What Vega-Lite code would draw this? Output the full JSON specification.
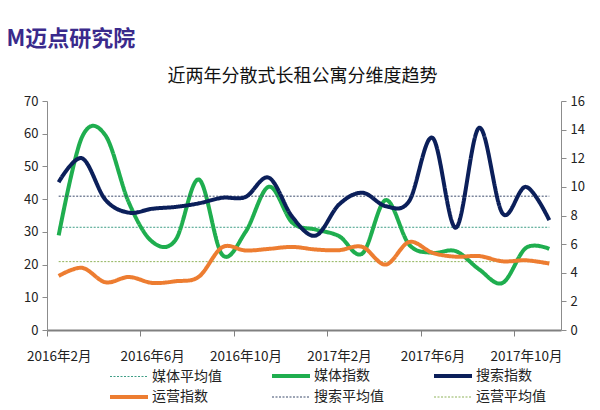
{
  "$schema": "https://vega.github.io/schema/vega-lite/v6.json",
  "description": "近两年分散式长租公寓分维度趋势",
  "width": 514,
  "height": 229,
  "autosize": {"type": "none"},
  "padding": {"left": 47, "top": 101, "right": 39, "bottom": 80},
  "background": "white",
  "title": {
    "text": "M迈点研究院",
    "font": "Noto Sans CJK SC",
    "fontSize": 22,
    "fontWeight": "bold",
    "color": "#3a2a8c",
    "anchor": "start",
    "frame": "bounds",
    "baseline": "bottom",
    "dx": -17,
    "offset": -6
  },
  "datasets": {
    "lines": [
      {"month": "2016年2月", "series": "媒体指数", "value": 28.9},
      {"month": "2016年3月", "series": "媒体指数", "value": 59},
      {"month": "2016年4月", "series": "媒体指数", "value": 59.5},
      {"month": "2016年5月", "series": "媒体指数", "value": 39},
      {"month": "2016年6月", "series": "媒体指数", "value": 27},
      {"month": "2016年7月", "series": "媒体指数", "value": 27.5},
      {"month": "2016年8月", "series": "媒体指数", "value": 46},
      {"month": "2016年9月", "series": "媒体指数", "value": 23},
      {"month": "2016年10月", "series": "媒体指数", "value": 30},
      {"month": "2016年11月", "series": "媒体指数", "value": 43.8},
      {"month": "2016年12月", "series": "媒体指数", "value": 32.8},
      {"month": "2017年1月", "series": "媒体指数", "value": 30.7},
      {"month": "2017年2月", "series": "媒体指数", "value": 28.7},
      {"month": "2017年3月", "series": "媒体指数", "value": 23.4},
      {"month": "2017年4月", "series": "媒体指数", "value": 39.7},
      {"month": "2017年5月", "series": "媒体指数", "value": 26.1},
      {"month": "2017年6月", "series": "媒体指数", "value": 23.6},
      {"month": "2017年7月", "series": "媒体指数", "value": 24.1},
      {"month": "2017年8月", "series": "媒体指数", "value": 18.5},
      {"month": "2017年9月", "series": "媒体指数", "value": 14.4},
      {"month": "2017年10月", "series": "媒体指数", "value": 25.1},
      {"month": "2017年11月", "series": "媒体指数", "value": 24.8},
      {"month": "2016年2月", "series": "运营指数", "value": 16.5},
      {"month": "2016年3月", "series": "运营指数", "value": 19.0},
      {"month": "2016年4月", "series": "运营指数", "value": 14.6},
      {"month": "2016年5月", "series": "运营指数", "value": 16.2},
      {"month": "2016年6月", "series": "运营指数", "value": 14.4},
      {"month": "2016年7月", "series": "运营指数", "value": 14.9},
      {"month": "2016年8月", "series": "运营指数", "value": 16.3},
      {"month": "2016年9月", "series": "运营指数", "value": 25.3},
      {"month": "2016年10月", "series": "运营指数", "value": 24.3},
      {"month": "2016年11月", "series": "运营指数", "value": 24.8},
      {"month": "2016年12月", "series": "运营指数", "value": 25.4},
      {"month": "2017年1月", "series": "运营指数", "value": 24.6},
      {"month": "2017年2月", "series": "运营指数", "value": 24.4},
      {"month": "2017年3月", "series": "运营指数", "value": 25.4},
      {"month": "2017年4月", "series": "运营指数", "value": 20.0},
      {"month": "2017年5月", "series": "运营指数", "value": 26.9},
      {"month": "2017年6月", "series": "运营指数", "value": 23.6},
      {"month": "2017年7月", "series": "运营指数", "value": 22.4},
      {"month": "2017年8月", "series": "运营指数", "value": 22.6},
      {"month": "2017年9月", "series": "运营指数", "value": 21.0},
      {"month": "2017年10月", "series": "运营指数", "value": 21.3},
      {"month": "2017年11月", "series": "运营指数", "value": 20.3},
      {"month": "2016年2月", "series": "搜索指数", "value": 10.33},
      {"month": "2016年3月", "series": "搜索指数", "value": 12.0},
      {"month": "2016年4月", "series": "搜索指数", "value": 9.1},
      {"month": "2016年5月", "series": "搜索指数", "value": 8.2},
      {"month": "2016年6月", "series": "搜索指数", "value": 8.47},
      {"month": "2016年7月", "series": "搜索指数", "value": 8.6},
      {"month": "2016年8月", "series": "搜索指数", "value": 8.85},
      {"month": "2016年9月", "series": "搜索指数", "value": 9.24},
      {"month": "2016年10月", "series": "搜索指数", "value": 9.3},
      {"month": "2016年11月", "series": "搜索指数", "value": 10.64},
      {"month": "2016年12月", "series": "搜索指数", "value": 7.9},
      {"month": "2017年1月", "series": "搜索指数", "value": 6.6},
      {"month": "2017年2月", "series": "搜索指数", "value": 8.77},
      {"month": "2017年3月", "series": "搜索指数", "value": 9.59},
      {"month": "2017年4月", "series": "搜索指数", "value": 8.65},
      {"month": "2017年5月", "series": "搜索指数", "value": 9.0},
      {"month": "2017年6月", "series": "搜索指数", "value": 13.43},
      {"month": "2017年7月", "series": "搜索指数", "value": 7.15},
      {"month": "2017年8月", "series": "搜索指数", "value": 14.13},
      {"month": "2017年9月", "series": "搜索指数", "value": 8.14},
      {"month": "2017年10月", "series": "搜索指数", "value": 10.0},
      {"month": "2017年11月", "series": "搜索指数", "value": 7.67}
    ],
    "averages": [
      {"series": "媒体平均值", "value": 31.4, "month": "2016年2月", "end": "2017年11月"},
      {"series": "运营平均值", "value": 20.9, "month": "2016年2月", "end": "2017年11月"},
      {"series": "搜索平均值", "value": 9.35, "month": "2016年2月", "end": "2017年11月"}
    ]
  },
  "encoding": {
    "x": {
      "field": "month",
      "type": "ordinal",
      "sort": null,
      "scale": {
        "type": "point",
        "padding": 0.5,
        "domain": ["2016年2月", "2016年3月", "2016年4月", "2016年5月", "2016年6月", "2016年7月", "2016年8月", "2016年9月", "2016年10月", "2016年11月", "2016年12月", "2017年1月", "2017年2月", "2017年3月", "2017年4月", "2017年5月", "2017年6月", "2017年7月", "2017年8月", "2017年9月", "2017年10月", "2017年11月"]
      },
      "axis": {
        "title": null,
        "values": ["2016年2月", "2016年6月", "2016年10月", "2017年2月", "2017年6月", "2017年10月"],
        "labelAngle": 0,
        "tickOffset": -11.68,
        "labelOffset": 11.68,
        "domainColor": "#808080",
        "domainWidth": 2,
        "tickColor": "#808080",
        "tickSize": 6,
        "labelPadding": 13,
        "labelFontSize": 13.5,
        "labelColor": "#222222",
        "grid": false
      }
    },
    "color": {
      "field": "series",
      "type": "nominal",
      "scale": {
        "domain": ["媒体平均值", "媒体指数", "搜索指数", "运营指数", "搜索平均值", "运营平均值"],
        "range": ["#3f9e86", "#1fae4f", "#0b1f5a", "#ed7d31", "#3b4a6b", "#8fb35a"]
      },
      "legend": {
        "title": null,
        "orient": "none",
        "legendX": 75,
        "legendY": 268,
        "columns": 3,
        "direction": "horizontal",
        "symbolType": "M-3.8,0H3.8",
        "symbolSize": 100,
        "labelFontSize": 14,
        "labelOffset": 16,
        "columnPadding": 42,
        "rowPadding": 5,
        "labelColor": "#222222",
        "padding": 0
      }
    },
    "strokeDash": {
      "field": "series",
      "type": "nominal",
      "scale": {
        "domain": ["媒体平均值", "媒体指数", "搜索指数", "运营指数", "搜索平均值", "运营平均值"],
        "range": [[2, 1.5], [1, 0], [1, 0], [1, 0], [2, 1.5], [2, 1.5]]
      },
      "legend": {
        "title": null,
        "orient": "none",
        "legendX": 75,
        "legendY": 268,
        "columns": 3,
        "direction": "horizontal",
        "symbolType": "M-3.8,0H3.8",
        "symbolSize": 100,
        "labelFontSize": 14,
        "labelOffset": 16,
        "columnPadding": 42,
        "rowPadding": 5,
        "labelColor": "#222222",
        "padding": 0
      }
    },
    "strokeWidth": {
      "field": "series",
      "type": "nominal",
      "scale": {
        "type": "ordinal",
        "domain": ["媒体平均值", "媒体指数", "搜索指数", "运营指数", "搜索平均值", "运营平均值"],
        "range": [1, 4, 4, 4, 1, 1]
      },
      "legend": {
        "title": null,
        "orient": "none",
        "legendX": 75,
        "legendY": 268,
        "columns": 3,
        "direction": "horizontal",
        "symbolType": "M-3.8,0H3.8",
        "symbolSize": 100,
        "labelFontSize": 14,
        "labelOffset": 16,
        "columnPadding": 42,
        "rowPadding": 5,
        "labelColor": "#222222",
        "padding": 0
      }
    }
  },
  "layer": [
    {
      "encoding": {
        "y": {
          "field": "value",
          "type": "quantitative",
          "scale": {"domain": [0, 70], "nice": false},
          "axis": {
            "values": [0, 10, 20, 30, 40, 50, 60, 70],
            "title": "近两年分散式长租公寓分维度趋势",
            "titleAngle": 0,
            "titleAlign": "center",
            "titleBaseline": "bottom",
            "titleX": 255,
            "titleY": -16,
            "titleFontSize": 18,
            "titleFontWeight": "normal",
            "titleColor": "#111111",
            "grid": false,
            "domainColor": "#8c8c8c",
            "tickColor": "#8c8c8c",
            "tickSize": 5,
            "labelFontSize": 13,
            "labelColor": "#222222",
            "labelPadding": 4
          }
        }
      },
      "layer": [
        {
          "data": {"name": "averages"},
          "transform": [{"filter": "datum.series !== '搜索平均值'"}],
          "mark": {"type": "rule"},
          "encoding": {"x2": {"field": "end"}}
        },
        {
          "data": {"name": "lines"},
          "transform": [{"filter": "datum.series !== '搜索指数'"}],
          "mark": {"type": "line", "interpolate": "cardinal"}
        }
      ]
    },
    {
      "encoding": {
        "y": {
          "field": "value",
          "type": "quantitative",
          "scale": {"domain": [0, 16], "nice": false},
          "axis": {
            "orient": "right",
            "values": [0, 2, 4, 6, 8, 10, 12, 14, 16],
            "title": null,
            "grid": false,
            "domainColor": "#8c8c8c",
            "tickColor": "#8c8c8c",
            "tickSize": 5,
            "labelFontSize": 13,
            "labelColor": "#222222",
            "labelPadding": 4
          }
        }
      },
      "layer": [
        {
          "data": {"name": "averages"},
          "transform": [{"filter": "datum.series === '搜索平均值'"}],
          "mark": {"type": "rule"},
          "encoding": {"x2": {"field": "end"}}
        },
        {
          "data": {"name": "lines"},
          "transform": [{"filter": "datum.series === '搜索指数'"}],
          "mark": {"type": "line", "interpolate": "cardinal"}
        }
      ]
    }
  ],
  "resolve": {"scale": {"y": "independent"}},
  "config": {
    "font": "Noto Sans CJK SC",
    "view": {"stroke": null}
  }
}
